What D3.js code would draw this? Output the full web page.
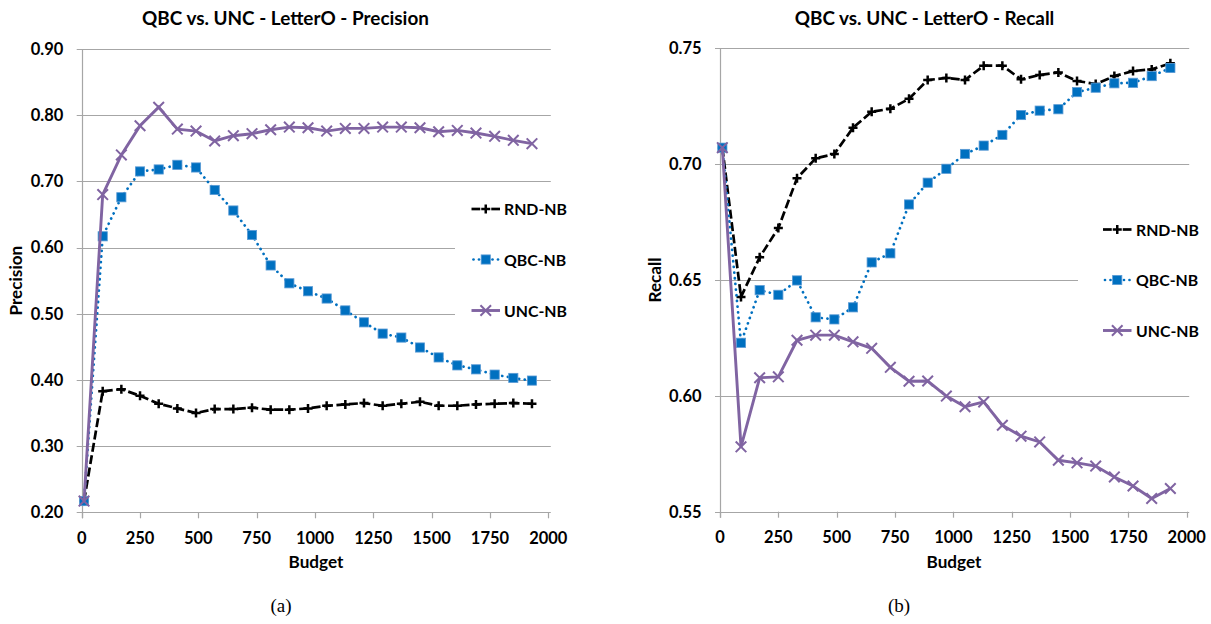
<!DOCTYPE html>
<html>
<head>
<meta charset="utf-8">
<script src="https://cdn.jsdelivr.net/npm/d3@7"></script>
<style>
  body { margin: 0; background: #fff; }
  svg { display: block; }
  .lbl { font-family: Lato, "Open Sans", sans-serif; font-weight: 700; fill: #000; }
  .cap { font-family: "Liberation Serif", "DejaVu Serif", serif; fill: #000; }
</style>
</head>
<body>
<svg id="fig" width="1211" height="624"></svg>
<script>
// Labelling budget at each evaluation step
const budget = [10, 90, 170, 250, 330, 410, 490, 570, 650, 730, 810, 890, 970,
                1050, 1130, 1210, 1290, 1370, 1450, 1530, 1610, 1690, 1770, 1850, 1930];

// Precision per strategy
const precisionRND = [0.217, 0.383, 0.386, 0.376, 0.364, 0.357, 0.350, 0.356, 0.356, 0.358, 0.355, 0.355, 0.357,
                      0.361, 0.363, 0.365, 0.361, 0.364, 0.367, 0.361, 0.361, 0.363, 0.364, 0.365, 0.364];
const precisionQBC = [0.217, 0.617, 0.676, 0.715, 0.718, 0.725, 0.721, 0.687, 0.656, 0.619, 0.573, 0.546, 0.534,
                      0.523, 0.505, 0.487, 0.470, 0.464, 0.449, 0.434, 0.422, 0.416, 0.408, 0.403, 0.399];
const precisionUNC = [0.217, 0.680, 0.740, 0.784, 0.812, 0.779, 0.776, 0.761, 0.769, 0.772, 0.778, 0.782, 0.781,
                      0.776, 0.780, 0.780, 0.782, 0.782, 0.781, 0.775, 0.777, 0.773, 0.768, 0.762, 0.757];

// Recall per strategy
const recallRND = [0.7071, 0.6427, 0.6598, 0.6724, 0.6939, 0.7025, 0.7044, 0.7157, 0.7226, 0.7239, 0.7282, 0.7363, 0.7372,
                   0.7363, 0.7425, 0.7425, 0.7366, 0.7385, 0.7396, 0.7359, 0.7346, 0.7380, 0.7402, 0.7409, 0.7435];
const recallQBC = [0.7071, 0.6229, 0.6456, 0.6436, 0.6498, 0.6339, 0.6330, 0.6382, 0.6576, 0.6615, 0.6826, 0.6920, 0.6980,
                   0.7044, 0.7080, 0.7126, 0.7212, 0.7231, 0.7237, 0.7311, 0.7330, 0.7349, 0.7351, 0.7380, 0.7415];
const recallUNC = [0.7071, 0.5780, 0.6078, 0.6082, 0.6240, 0.6262, 0.6262, 0.6233, 0.6205, 0.6123, 0.6063, 0.6064, 0.5999,
                   0.5953, 0.5974, 0.5873, 0.5826, 0.5801, 0.5722, 0.5711, 0.5697, 0.5650, 0.5611, 0.5557, 0.5600];

// Axis ticks
const budgetTicks = [0, 250, 500, 750, 1000, 1250, 1500, 1750, 2000];
const precisionTicks = [0.20, 0.30, 0.40, 0.50, 0.60, 0.70, 0.80, 0.90];
const recallTicks = [0.55, 0.60, 0.65, 0.70, 0.75];

const seriesNames = ["RND-NB", "QBC-NB", "UNC-NB"];

const COL = { rnd: "#000000", qbc: "#0070C0", unc: "#8064A2", grid: "#a6a6a6" };

const svg = d3.select("#fig");

// Pick a font size so that a sample string spans the wanted width
function fitSize(sample, width) {
  const t = svg.append("text").attr("class", "lbl").attr("font-size", 20).text(sample);
  const w = t.node().getComputedTextLength();
  t.remove();
  return 20 * width / w;
}
const FS = {
  title: fitSize("QBC vs. UNC - LetterO - Precision", 287),
  tick: fitSize("0.90", 32.6),
  legend: fitSize("RND-NB", 63),
  axis: fitSize("Budget", 55)
};

const plusPath = "M-4.5,0H4.5M0,-4.5V4.5";
const crossPath = "M-5.3,-5.3L5.3,5.3M-5.3,5.3L5.3,-5.3";

function drawMarker(g, kind, x, y) {
  if (kind === "rnd") {
    g.append("path").attr("d", plusPath).attr("transform", `translate(${x},${y})`)
      .attr("stroke", COL.rnd).attr("stroke-width", 2.5).attr("fill", "none");
  } else if (kind === "qbc") {
    g.append("rect").attr("x", x - 4.6).attr("y", y - 4.6).attr("width", 9.2).attr("height", 9.2)
      .attr("fill", COL.qbc).attr("stroke", "#5b9bd5").attr("stroke-width", 0.8);
  } else {
    g.append("path").attr("d", crossPath).attr("transform", `translate(${x},${y})`)
      .attr("stroke", COL.unc).attr("stroke-width", 2).attr("fill", "none");
  }
}

function lineStyle(sel, kind) {
  if (kind === "rnd") {
    sel.attr("stroke", COL.rnd).attr("stroke-width", 2.7).attr("stroke-dasharray", "9,3.5");
  } else if (kind === "qbc") {
    sel.attr("stroke", COL.qbc).attr("stroke-width", 2.7).attr("stroke-linecap", "round")
      .attr("stroke-dasharray", "0.1,5.6");
  } else {
    sel.attr("stroke", COL.unc).attr("stroke-width", 2.9);
  }
  return sel;
}

function chart(o) {
  const g = svg.append("g");
  const x = d3.scaleLinear().domain([0, 2000]).range(o.xRange);
  const y = d3.scaleLinear().domain(o.yDomain).range(o.yRange);
  const gridRight = o.xRange[1] + 2.5;

  // Horizontal gridlines (the lowest doubles as the x-axis)
  g.append("g").selectAll("line").data(o.yTicks).join("line")
    .attr("x1", o.xRange[0] - 5).attr("x2", gridRight)
    .attr("y1", d => Math.round(y(d)) + 0.5).attr("y2", d => Math.round(y(d)) + 0.5)
    .attr("stroke", COL.grid).attr("stroke-width", 1.2);

  // Vertical axis line
  const x0 = Math.round(o.xRange[0]) + 0.5;
  g.append("line").attr("x1", x0).attr("x2", x0)
    .attr("y1", o.yRange[1]).attr("y2", o.yRange[0] + 6)
    .attr("stroke", COL.grid).attr("stroke-width", 1.2);

  // X tick marks below the axis
  g.append("g").selectAll("line").data(budgetTicks).join("line")
    .attr("x1", d => Math.round(x(d)) + 0.5).attr("x2", d => Math.round(x(d)) + 0.5)
    .attr("y1", o.yRange[0]).attr("y2", o.yRange[0] + 6)
    .attr("stroke", COL.grid).attr("stroke-width", 1.2);

  // Legend backdrop (covers the gridlines behind the legend)
  g.append("rect").attr("x", o.legend.boxX).attr("y", o.legend.boxY)
    .attr("width", 1211 - o.legend.boxX).attr("height", o.legend.boxH).attr("fill", "#fff");

  // Tick labels
  g.append("g").selectAll("text").data(o.yTicks).join("text")
    .attr("class", "lbl").attr("x", o.xRange[0] - 18.4).attr("y", d => y(d) + 5.8)
    .attr("text-anchor", "end").attr("font-size", FS.tick)
    .text(d => d.toFixed(2));
  g.append("g").selectAll("text").data(budgetTicks).join("text")
    .attr("class", "lbl").attr("x", d => x(d)).attr("y", o.yRange[0] + 31.5)
    .attr("text-anchor", "middle").attr("font-size", FS.tick)
    .text(d => d);

  // Titles
  g.append("text").attr("class", "lbl").attr("x", o.titleX).attr("y", 24.5)
    .attr("text-anchor", "middle").attr("font-size", FS.title).text(o.title);
  g.append("text").attr("class", "lbl").attr("x", o.budgetX)
    .attr("y", o.yRange[0] + 56).attr("text-anchor", "middle").attr("font-size", FS.axis).text("Budget");
  g.append("text").attr("class", "lbl")
    .attr("transform", `translate(${o.yLabelX},${(o.yRange[0] + o.yRange[1]) / 2}) rotate(-90)`)
    .attr("text-anchor", "middle").attr("font-size", FS.axis).text(o.yLabel);

  // Series
  const kinds = ["rnd", "qbc", "unc"];
  kinds.forEach((k, i) => {
    const vals = o.series[i];
    const pts = budget.map((b, j) => [x(b), y(vals[j])]);
    const path = g.append("path").attr("d", d3.line()(pts)).attr("fill", "none");
    lineStyle(path, k);
    const mg = g.append("g");
    pts.forEach(p => drawMarker(mg, k, p[0], p[1]));
  });

  // Legend
  const L = o.legend;
  kinds.forEach((k, i) => {
    const ly = L.ys[i];
    const cx = (L.s0 + L.s1) / 2;
    if (k === "rnd") {
      g.append("line").attr("x1", L.s0).attr("x2", cx - 5.5).attr("y1", ly).attr("y2", ly)
        .attr("stroke", COL.rnd).attr("stroke-width", 2.7);
      g.append("line").attr("x1", cx + 5.5).attr("x2", L.s1).attr("y1", ly).attr("y2", ly)
        .attr("stroke", COL.rnd).attr("stroke-width", 2.7);
    } else if (k === "qbc") {
      [L.s0 + 2, L.s0 + 7.5, L.s1 - 7.5, L.s1 - 2].forEach(dx => {
        g.append("circle").attr("cx", dx).attr("cy", ly).attr("r", 1.35).attr("fill", COL.qbc);
      });
    } else {
      g.append("line").attr("x1", L.s0).attr("x2", L.s1).attr("y1", ly).attr("y2", ly)
        .attr("stroke", COL.unc).attr("stroke-width", 2.9);
    }
    drawMarker(g, k, cx, ly);
    g.append("text").attr("class", "lbl").attr("x", L.tx).attr("y", ly + 6)
      .attr("font-size", FS.legend).text(seriesNames[i]);
  });

  // Sub-figure caption
  g.append("text").attr("class", "cap").attr("x", o.capX).attr("y", 612)
    .attr("text-anchor", "middle").attr("font-size", 19).text(o.caption);
}

chart({
  xRange: [81.7, 548.3], yDomain: [0.2, 0.9], yRange: [512.3, 49],
  yTicks: precisionTicks, title: "QBC vs. UNC - LetterO - Precision", titleX: 285.5,
  yLabel: "Precision", yLabelX: 22, budgetX: 316,
  series: [precisionRND, precisionQBC, precisionUNC],
  legend: { boxX: 455, boxY: 190, boxH: 140, s0: 471.5, s1: 500, tx: 504, ys: [209, 259.5, 310.5] },
  capX: 281, caption: "(a)"
});

chart({
  xRange: [720, 1186.7], yDomain: [0.55, 0.75], yRange: [511.7, 48.3],
  yTicks: recallTicks, title: "QBC vs. UNC - LetterO - Recall", titleX: 924.5,
  yLabel: "Recall", yLabelX: 661, budgetX: 954,
  series: [recallRND, recallQBC, recallUNC],
  legend: { boxX: 1078, boxY: 205, boxH: 145, s0: 1103, s1: 1131.5, tx: 1136, ys: [229.5, 280, 330.5] },
  capX: 899, caption: "(b)"
});
</script>
</body>
</html>
